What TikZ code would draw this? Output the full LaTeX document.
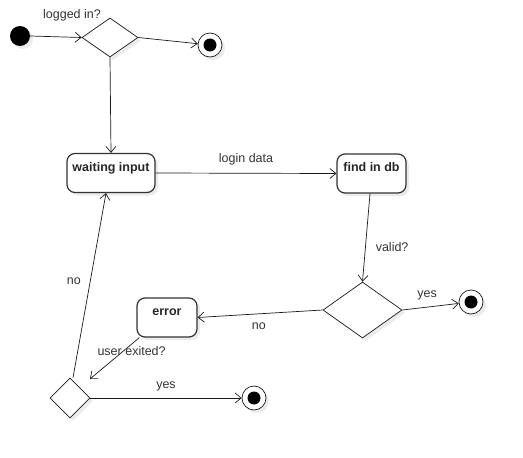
\documentclass[tikz,border=0pt]{standalone}
\usepackage{fontspec}
\setmainfont{Liberation Sans}
\usepackage{tikz}
\usetikzlibrary{positioning}
\usetikzlibrary{shapes.geometric,shadows,arrows.meta}

\definecolor{LineGray}{HTML}{1A1A1A}
\definecolor{BoxGray}{HTML}{333333}
\definecolor{TextGray}{HTML}{333333}

\newcommand{\diagfont}{\fontsize{12.5}{15}\selectfont}

\tikzset{
	Shadow/.style	= {drop shadow={shadow xshift=3pt, shadow yshift=-3pt, fill=black, opacity=0.08}},
	Activity/.style	= {draw=BoxGray, line width=1.2pt, fill=white, rounded corners=8pt, Shadow,
					   minimum height=39pt, inner sep=0pt, text height=9pt, text depth=13pt,
					   font=\diagfont\bfseries, text=black!85},
	Decision/.style	= {draw=LineGray, line width=0.7pt, fill=white, diamond, inner sep=0pt, Shadow},
	Initial/.style	= {circle, fill=black, minimum size=20pt, inner sep=0pt, Shadow},
	Final/.style	= {circle, draw=LineGray, line width=0.7pt, fill=white, minimum size=24pt, inner sep=0pt, Shadow,
					   path picture={\fill[black] (path picture bounding box.center) circle (6.5pt);}},
	Flow/.style		= {draw=LineGray, line width=0.7pt, -{Straight Barb[length=6pt,width=10pt]}},
	Guard/.style	= {text=TextGray, inner sep=2pt},
}

\begin{document}
\begin{tikzpicture}[x=1pt, y=-1pt, font=\diagfont]

	\useasboundingbox (0,0) rectangle (523,458);

	% ---------------------
	% Login check
	\node[Initial] (Start) at (20,36) {};
	\node[Decision, minimum width=56pt, minimum height=39pt] (LoggedIn) at (110,37.5) {};
	\node[Final] (EndTop) at (210,45) {};
	\node[Guard] (LoggedInLabel) at (72,15) {logged in?};

	% ---------------------
	% Activities
	\node[Activity, minimum width=88pt] (WaitingInput) at (111,173) {waiting input};
	\node[Activity, minimum width=69pt] (FindInDb) at (371.5,173.5) {find in db};
	\node[Activity, minimum width=60pt] (Error) at (167,317.5) {error};

	% ---------------------
	% Decisions & final states
	\node[Decision, minimum width=79pt, minimum height=56pt] (Valid) at (362.5,310) {};
	\node[Final] (EndValid) at (471,302) {};

	\node[Decision, minimum width=40pt, minimum height=40pt] (UserExited) at (70,398) {};
	\node[Final] (EndExit) at (254,398) {};
	\coordinate (UserExitedIn) at (90,379);

	% ------------------------------------------------
	% Flows
	\draw[Flow] (Start.east) -- (LoggedIn.west);
	\draw[Flow] (LoggedIn.east) -- (EndTop);
	\draw[Flow] (LoggedIn.south) -- (WaitingInput.north);

	\draw[Flow] (WaitingInput.east) -- node[Guard, midway, above=6pt] {login data} (FindInDb.west);
	\draw[Flow] ([xshift=-1.5pt]FindInDb.south) -- node[Guard, pos=0.61, right=8pt] {valid?} (Valid.north);

	\draw[Flow] (Valid.east) -- node[Guard, pos=0.44, above=5pt] {yes} (EndValid);
	\draw[Flow] (Valid.west) -- node[Guard, pos=0.51, below=7pt] {no} (Error.east);

	\draw[Flow] ([xshift=3pt]Error.south west) -- node[Guard, pos=0.32, xshift=8pt] {user exited?} (UserExitedIn);
	\draw[Flow] (UserExited.east) -- node[Guard, midway, above=5pt] {yes} (EndExit);
	\draw[Flow] ([xshift=3pt]UserExited.north) -- node[Guard, pos=0.52, left=7pt] {no} ([xshift=-5pt]WaitingInput.south);

\end{tikzpicture}
\end{document}
